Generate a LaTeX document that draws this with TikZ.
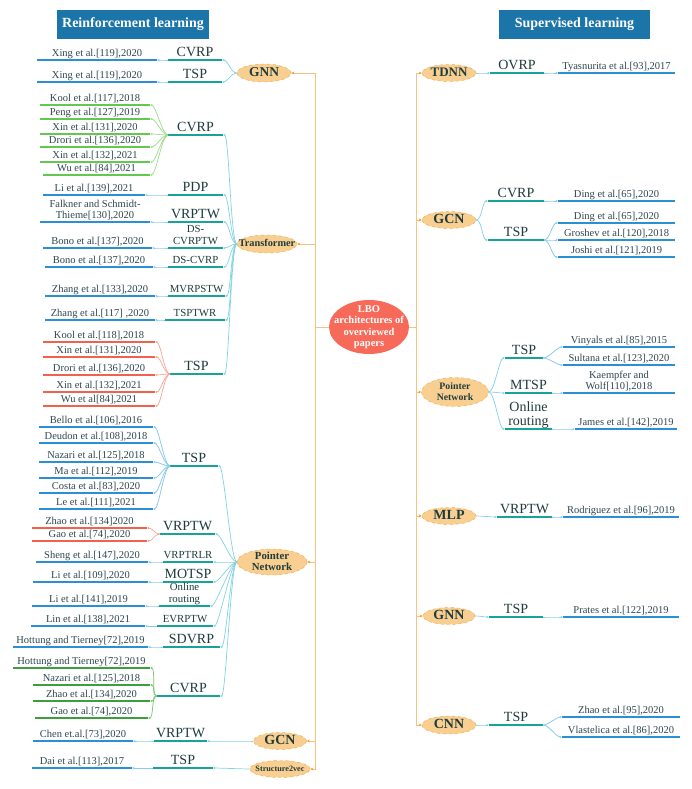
\documentclass[tikz,border=0pt]{standalone}
\usepackage{fontspec}
\setmainfont{Liberation Serif}
\usetikzlibrary{arrows.meta,shapes.geometric}
\definecolor{tealc}{HTML}{17A398}
\definecolor{bluec}{HTML}{2B8FD6}
\definecolor{cyanl}{HTML}{7FD3E3}
\definecolor{bluel}{HTML}{8CCBEB}
\definecolor{greenc}{HTML}{62C84E}
\definecolor{greenl}{HTML}{9BDD8A}
\definecolor{greend}{HTML}{3C9E3C}
\definecolor{greendl}{HTML}{7CC46E}
\definecolor{redc}{HTML}{F2604E}
\definecolor{redl}{HTML}{F6A394}
\definecolor{trunkc}{HTML}{F6C27F}
\definecolor{trunka}{HTML}{EE9A2E}
\definecolor{nodef}{HTML}{F9CF91}
\definecolor{nodeb}{HTML}{F0A848}
\definecolor{hdrc}{HTML}{1B75A9}
\definecolor{lboc}{HTML}{F76A5A}
\definecolor{toptxt}{HTML}{1F3C3C}
\definecolor{citetxt}{HTML}{2E4651}
\newcommand\ctrtxt[1]{\smash{\raisebox{-.3em}{\makebox[0pt]{\begin{tabular}{@{}c@{}}#1\end{tabular}}}}}
\newcommand\leaf[7]{\node[#6, minimum width=#3pt-#2pt] (#1) at ({(#2+#3)/2},#4) {#5};\draw[#7] (#1.south west) -- (#1.south east);}
\newcommand\conL[3]{\draw[#1] (#2) .. controls +(-6,0) and +(6,0) .. (#3);}
\newcommand\conR[3]{\draw[#1] (#2) .. controls +(6,0) and +(-6,0) .. (#3);}
\tikzset{
 lfnode/.style={anchor=south, inner xsep=1pt, inner ysep=1.5pt, text depth=2pt, align=center, outer sep=0pt},
 cite/.style={lfnode, text=citetxt, font=\fontsize{10.5}{11.5}\selectfont},
 topb/.style={lfnode, text=toptxt, font=\fontsize{14}{14.5}\selectfont},
 tops/.style={lfnode, text=toptxt, font=\fontsize{10.8}{12}\selectfont},
 tl/.style={draw=tealc, line width=1.6pt},
 bl/.style={draw=bluec, line width=1.6pt},
 gl/.style={draw=greenc, line width=1.6pt},
 gdl/.style={draw=greend, line width=1.6pt},
 rl/.style={draw=redc, line width=1.6pt},
 tipk/.style={-{Stealth[length=2.6pt,width=2.2pt]}},
 ct/.style={draw=cyanl, line width=0.7pt, tipk},
 cb/.style={draw=bluel, line width=0.8pt, tipk},
 cg/.style={draw=greenl, line width=0.7pt, tipk},
 cgd/.style={draw=greendl, line width=0.7pt, tipk},
 cr/.style={draw=redl, line width=0.7pt, tipk},
 trunk/.style={draw=trunkc, line width=0.8pt, -{Stealth[length=3pt,width=2.6pt,color=trunka]}},
 arch/.style={ellipse, draw=nodeb, dashed, fill=nodef, inner sep=0pt, text=toptxt},
 hdr/.style={rectangle, fill=hdrc, text=white, minimum height=29pt, inner sep=0pt, font=\bfseries\fontsize{14}{16}\selectfont},
 lbo/.style={ellipse, fill=lboc, text=white, inner sep=0pt, minimum width=80pt, minimum height=54pt, font=\bfseries\fontsize{10.5}{11.5}\selectfont}
}
\begin{document}
\begin{tikzpicture}[x=1pt,y=-1pt]
\useasboundingbox (0,0) rectangle (692,789);
\fill[white] (0,0) rectangle (692,789);
% headers
\node[hdr, minimum width=152pt] (hL) at (133,24.5) {Reinforcement learning};
\node[hdr, minimum width=151pt] (hR) at (574.5,24.5) {Supervised learning};
% center
\node[lbo] (lbo) at (369,327) {\ctrtxt{LBO\\architectures of\\overviewed\\papers}};
% architecture nodes left
\node[arch, minimum width=54pt, minimum height=18pt, font=\bfseries\fontsize{13.5}{14}\selectfont] (gnnL) at (264,73) {\ctrtxt{GNN}};
\node[arch, minimum width=60pt, minimum height=18pt, font=\bfseries\fontsize{10.3}{11}\selectfont] (trL) at (267,244) {\ctrtxt{Transformer}};
\node[arch, minimum width=70pt, minimum height=26pt, font=\bfseries\fontsize{10.8}{11.5}\selectfont] (ptrL) at (272,562) {\ctrtxt{Pointer\\Network}};
\node[arch, minimum width=53pt, minimum height=17pt, font=\bfseries\fontsize{14}{14}\selectfont] (gcnL) at (280,741) {\ctrtxt{GCN}};
\node[arch, minimum width=60pt, minimum height=17pt, font=\bfseries\fontsize{8.2}{9}\selectfont] (s2v) at (280,769) {\ctrtxt{Structure2vec}};
% architecture nodes right
\node[arch, minimum width=54pt, minimum height=17pt, font=\bfseries\fontsize{13}{14}\selectfont] (tdnn) at (449,73) {\ctrtxt{TDNN}};
\node[arch, minimum width=54pt, minimum height=17pt, font=\bfseries\fontsize{14}{14}\selectfont] (gcnR) at (449,220) {\ctrtxt{GCN}};
\node[arch, minimum width=67pt, minimum height=29pt, font=\bfseries\fontsize{9.8}{11}\selectfont] (ptrR) at (455,392) {\ctrtxt{Pointer\\Network}};
\node[arch, minimum width=54pt, minimum height=17pt, font=\bfseries\fontsize{14}{14}\selectfont] (mlp) at (449,516) {\ctrtxt{MLP}};
\node[arch, minimum width=52pt, minimum height=17pt, font=\bfseries\fontsize{14}{14}\selectfont] (gnnR) at (449,616) {\ctrtxt{GNN}};
\node[arch, minimum width=54pt, minimum height=18pt, font=\bfseries\fontsize{14}{14}\selectfont] (cnn) at (449,725) {\ctrtxt{CNN}};
% trunks
\foreach \n in {gnnL,trL,ptrL,gcnL,s2v} {\draw[trunk] (lbo.west) -- ++(-13,0) |- (\n.east);}
\foreach \n in {tdnn,gcnR,ptrR,mlp,gnnR,cnn} {\draw[trunk] (lbo.east) -- ++(7,0) |- (\n.west);}
% ---------- GNN (left)
\leaf{tA1}{168}{222}{60}{CVRP}{topb}{tl}
\leaf{tA2}{168}{222}{82}{TSP}{topb}{tl}
\leaf{cA1}{37}{157}{60}{Xing et al.[119],2020}{cite}{bl}
\leaf{cA2}{37}{157}{82}{Xing et al.[119],2020}{cite}{bl}
\conL{ct}{gnnL.west}{tA1.south east}
\conL{ct}{gnnL.west}{tA2.south east}
\conL{cb}{tA1.south west}{cA1.south east}
\conL{cb}{tA2.south west}{cA2.south east}
% ---------- Transformer
\leaf{tB1}{168}{223}{135}{CVRP}{topb}{tl}
\leaf{tB2}{168}{223}{195}{PDP}{topb}{tl}
\leaf{tB3}{168}{223}{222}{VRPTW}{topb}{tl}
\leaf{tB4}{168}{223}{248}{DS-\\CVRPTW}{tops}{tl}
\leaf{tB5}{168}{223}{267}{DS-CVRP}{tops}{tl}
\leaf{tB6}{168}{225}{296}{MVRPSTW}{tops}{tl}
\leaf{tB7}{165}{225}{320}{TSPTWR}{tops}{tl}
\leaf{tB8}{170}{223}{374}{TSP}{topb}{tl}
\foreach \t in {tB1,tB2,tB3,tB4,tB5,tB6,tB7,tB8} {\conL{ct}{trL.west}{\t.south east}}
\leaf{cB1a}{40}{150}{105}{Kool et al.[117],2018}{cite}{gl}
\leaf{cB1b}{40}{150}{119}{Peng et al.[127],2019}{cite}{gl}
\leaf{cB1c}{40}{150}{134}{Xin et al.[131],2020}{cite}{gl}
\leaf{cB1d}{40}{150}{147}{Drori et al.[136],2020}{cite}{gl}
\leaf{cB1e}{40}{150}{162}{Xin et al.[132],2021}{cite}{gl}
\leaf{cB1f}{43}{150}{175}{Wu et al.[84],2021}{cite}{gl}
\foreach \c in {cB1a,cB1b,cB1c,cB1d,cB1e,cB1f} {\conL{cg}{tB1.south west}{\c.south east}}
\leaf{cB2}{43}{145}{195}{Li et al.[139],2021}{cite}{bl}
\leaf{cB3}{40}{150}{222}{Falkner and Schmidt-\\Thieme[130],2020}{cite}{bl}
\leaf{cB4}{43}{152}{248}{Bono et al.[137],2020}{cite}{bl}
\leaf{cB5}{45}{153}{267}{Bono et al.[137],2020}{cite}{bl}
\leaf{cB6}{45}{155}{296}{Zhang et al.[133],2020}{cite}{bl}
\leaf{cB7}{45}{155}{320}{Zhang et al.[117] ,2020}{cite}{bl}
\conL{cb}{tB2.south west}{cB2.south east}
\conL{cb}{tB3.south west}{cB3.south east}
\conL{cb}{tB4.south west}{cB4.south east}
\conL{cb}{tB5.south west}{cB5.south east}
\conL{cb}{tB6.south west}{cB6.south east}
\conL{cb}{tB7.south west}{cB7.south east}
\leaf{cB8a}{43}{155}{342}{Kool et al.[118],2018}{cite}{rl}
\leaf{cB8b}{43}{155}{357}{Xin et al.[131],2020}{cite}{rl}
\leaf{cB8c}{43}{155}{375}{Drori et al.[136],2020}{cite}{rl}
\leaf{cB8d}{43}{155}{392}{Xin et al.[132],2021}{cite}{rl}
\leaf{cB8e}{43}{155}{406}{Wu et al[84],2021}{cite}{rl}
\foreach \c in {cB8a,cB8b,cB8c,cB8d,cB8e} {\conL{cr}{tB8.south west}{\c.south east}}
% ---------- Pointer Network (left)
\leaf{tC1}{170}{218}{466}{TSP}{topb}{tl}
\leaf{tC2}{160}{215}{534}{VRPTW}{topb}{tl}
\leaf{tC3}{163}{213}{562}{VRPTRLR}{tops}{tl}
\leaf{tC4}{163}{213}{582}{MOTSP}{topb}{tl}
\leaf{tC5}{159}{210}{606}{Online\\routing}{tops}{tl}
\leaf{tC6}{157}{213}{626}{EVRPTW}{tops}{tl}
\leaf{tC7}{163}{220}{647}{SDVRP}{topb}{tl}
\leaf{tC8}{157}{220}{696}{CVRP}{topb}{tl}
\foreach \t in {tC1,tC2,tC3,tC4,tC5,tC6,tC7,tC8} {\conL{ct}{ptrL.west}{\t.south east}}
\leaf{cC1a}{39}{153}{427}{Bello et al.[106],2016}{cite}{bl}
\leaf{cC1b}{39}{153}{443}{Deudon et al.[108],2018}{cite}{bl}
\leaf{cC1c}{39}{153}{462}{Nazari et al.[125],2018}{cite}{bl}
\leaf{cC1d}{39}{153}{478}{Ma et al.[112],2019}{cite}{bl}
\leaf{cC1e}{39}{153}{493}{Costa et al.[83],2020}{cite}{bl}
\leaf{cC1f}{39}{153}{509}{Le et al.[111],2021}{cite}{bl}
\foreach \c in {cC1a,cC1b,cC1c,cC1d,cC1e,cC1f} {\conL{cb}{tC1.south west}{\c.south east}}
\leaf{cC2a}{32}{147}{528}{Zhao et al.[134]2020}{cite}{rl}
\leaf{cC2b}{32}{147}{541}{Gao et al.[74],2020}{cite}{rl}
\foreach \c in {cC2a,cC2b} {\conL{cr}{tC2.south west}{\c.south east}}
\leaf{cC3}{36}{148}{562}{Sheng et al.[147],2020}{cite}{bl}
\leaf{cC4}{33}{148}{582}{Li et al.[109],2020}{cite}{bl}
\leaf{cC5}{32}{145}{606}{Li et al.[141],2019}{cite}{bl}
\leaf{cC6}{31}{145}{626}{Lin et al.[138],2021}{cite}{bl}
\leaf{cC7}{13}{148}{647}{Hottung and Tierney[72],2019}{cite}{bl}
\conL{cb}{tC3.south west}{cC3.south east}
\conL{cb}{tC4.south west}{cC4.south east}
\conL{cb}{tC5.south west}{cC5.south east}
\conL{cb}{tC6.south west}{cC6.south east}
\conL{cb}{tC7.south west}{cC7.south east}
\leaf{cC8a}{13}{150}{668}{Hottung and Tierney[72],2019}{cite}{gdl}
\leaf{cC8b}{33}{150}{685}{Nazari et al.[125],2018}{cite}{gdl}
\leaf{cC8c}{33}{150}{701}{Zhao et al.[134],2020}{cite}{gdl}
\leaf{cC8d}{35}{148}{718}{Gao et al.[74],2020}{cite}{gdl}
\foreach \c in {cC8a,cC8b,cC8c,cC8d} {\conL{cgd}{tC8.south west}{\c.south east}}
% ---------- GCN (left) and Structure2vec
\leaf{tD1}{154}{207}{741}{VRPTW}{topb}{tl}
\leaf{cD1}{33}{133}{741}{Chen et.al.[73],2020}{cite}{bl}
\conL{ct}{gcnL.west}{tD1.south east}
\conL{cb}{tD1.south west}{cD1.south east}
\leaf{tE1}{153}{213}{768}{TSP}{topb}{tl}
\leaf{cE1}{32}{132}{768}{Dai et al.[113],2017}{cite}{bl}
\conL{ct}{s2v.west}{tE1.south east}
\conL{cb}{tE1.south west}{cE1.south east}
% ---------- TDNN
\leaf{tF1}{490}{544}{73}{OVRP}{topb}{tl}
\leaf{cF1}{558}{675}{73}{Tyasnurita et al.[93],2017}{cite}{bl}
\conR{ct}{tdnn.east}{tF1.south west}
\conR{cb}{tF1.south east}{cF1.south west}
% ---------- GCN (right)
\leaf{tG1}{488}{544}{201}{CVRP}{topb}{tl}
\leaf{tG2}{488}{544}{240}{TSP}{topb}{tl}
\conR{ct}{gcnR.east}{tG1.south west}
\conR{ct}{gcnR.east}{tG2.south west}
\leaf{cG1}{558}{675}{201}{Ding et al.[65],2020}{cite}{bl}
\conR{cb}{tG1.south east}{cG1.south west}
\leaf{cG2a}{558}{675}{223}{Ding et al.[65],2020}{cite}{bl}
\leaf{cG2b}{558}{675}{240}{Groshev et al.[120],2018}{cite}{bl}
\leaf{cG2c}{558}{675}{257}{Joshi et al.[121],2019}{cite}{bl}
\foreach \c in {cG2a,cG2b,cG2c} {\conR{cb}{tG2.south east}{\c.south west}}
% ---------- Pointer Network (right)
\leaf{tH1}{505}{543}{358}{TSP}{topb}{tl}
\leaf{tH2}{505}{552}{393}{MTSP}{topb}{tl}
\leaf{tH3}{505}{552}{429}{Online\\routing}{topb}{tl}
\foreach \t in {tH1,tH2,tH3} {\conR{ct}{ptrR.east}{\t.south west}}
\leaf{cH1a}{563}{675}{347}{Vinyals et al.[85],2015}{cite}{bl}
\leaf{cH1b}{563}{675}{365}{Sultana et al.[123],2020}{cite}{bl}
\foreach \c in {cH1a,cH1b} {\conR{cb}{tH1.south east}{\c.south west}}
\leaf{cH2}{563}{675}{393}{Kaempfer and\\Wolf[110],2018}{cite}{bl}
\conR{cb}{tH2.south east}{cH2.south west}
\leaf{cH3}{575}{677}{429}{James et al.[142],2019}{cite}{bl}
\conR{cb}{tH3.south east}{cH3.south west}
% ---------- MLP
\leaf{tI1}{497}{552}{517}{VRPTW}{topb}{tl}
\leaf{cI1}{563}{679}{517}{Rodriguez et al.[96],2019}{cite}{bl}
\conR{ct}{mlp.east}{tI1.south west}
\conR{cb}{tI1.south east}{cI1.south west}
% ---------- GNN (right)
\leaf{tJ1}{489}{543}{617}{TSP}{topb}{tl}
\leaf{cJ1}{563}{679}{617}{Prates et al.[122],2019}{cite}{bl}
\conR{ct}{gnnR.east}{tJ1.south west}
\conR{cb}{tJ1.south east}{cJ1.south west}
% ---------- CNN
\leaf{tK1}{489}{543}{725}{TSP}{topb}{tl}
\conR{ct}{cnn.east}{tK1.south west}
\leaf{cK1a}{562}{680}{717}{Zhao et al.[95],2020}{cite}{bl}
\leaf{cK1b}{562}{680}{737}{Vlastelica et al.[86],2020}{cite}{bl}
\foreach \c in {cK1a,cK1b} {\conR{cb}{tK1.south east}{\c.south west}}
\end{tikzpicture}
\end{document}
